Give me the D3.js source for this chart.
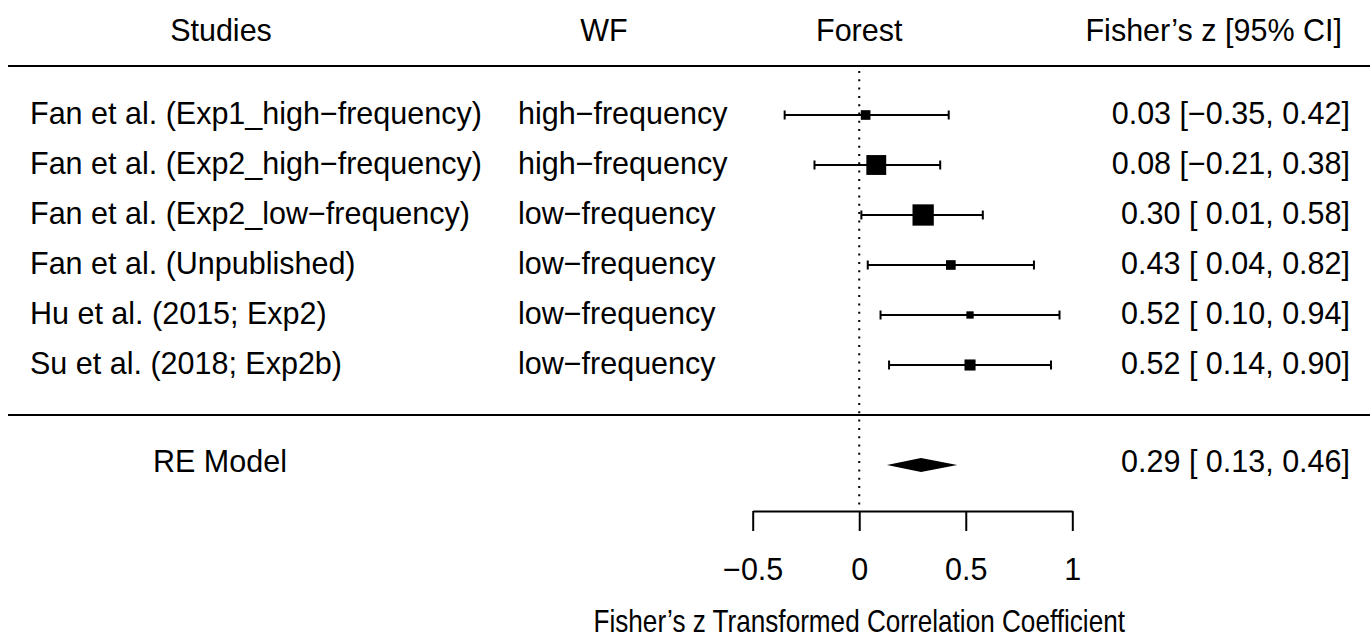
<!DOCTYPE html>
<html>
<head>
<meta charset="utf-8">
<script src="https://cdn.jsdelivr.net/npm/d3@7"></script>
<style>
  body { margin: 0; background: #fff; }
  svg text { font-family: "Liberation Sans", Arial, Helvetica, sans-serif; fill: #000; white-space: pre; }
</style>
</head>
<body>
<div id="chart"></div>
<script>
// study rows
const studies = [
  "Fan et al. (Exp1_high\u2212frequency)",
  "Fan et al. (Exp2_high\u2212frequency)",
  "Fan et al. (Exp2_low\u2212frequency)",
  "Fan et al. (Unpublished)",
  "Hu et al. (2015; Exp2)",
  "Su et al. (2018; Exp2b)"
]
const wf = ["high\u2212frequency", "high\u2212frequency", "low\u2212frequency", "low\u2212frequency", "low\u2212frequency", "low\u2212frequency"]
const est   = [0.03, 0.08, 0.30, 0.43, 0.52, 0.52]
const lower = [-0.35, -0.21, 0.01, 0.04, 0.10, 0.14]
const upper = [0.42, 0.38, 0.58, 0.82, 0.94, 0.90]
// approximate study weights (%), drive the square size
const weights = [14.8, 20.5, 21.3, 14.8, 13.5, 15.6]

// pooled random-effects estimate
const reLabel = "RE Model"
const reEst = 0.29, reLower = 0.13, reUpper = 0.46

const headers = ["Studies", "WF", "Forest", "Fisher\u2019s z [95% CI]"]
const tickValues = [-0.5, 0, 0.5, 1]
const xTitle = "Fisher\u2019s z Transformed Correlation Coefficient"

const W = 1372, H = 638
const FS = 30.5

const svg = d3.select("#chart").append("svg")
    .attr("width", W)
    .attr("height", H)
    .attr("viewBox", `0 0 ${W} ${H}`)

const x = d3.scaleLinear().domain([-0.5, 1]).range([752.7, 1072.3])
const y = d3.scaleLinear().domain([0, 5]).range([115, 365])
const size = d3.scaleLinear().domain(d3.extent(weights)).range([7.3, 21.3])

const fmt = d3.format(".2f")
const pad = v => (v < 0 ? "" : " ") + fmt(v)
const ciText = (e, l, u) => `${fmt(e)} [${pad(l)}, ${fmt(u)}]`

const rows = studies.map((s, i) => ({
  study: s, wf: wf[i], est: est[i], lo: lower[i], hi: upper[i], w: weights[i], i: i
}))

// headers
svg.append("g").selectAll("text")
  .data(headers)
  .enter().append("text")
    .attr("x", (d, i) => [221, 604, x(0), 1342][i])
    .attr("y", 41)
    .attr("text-anchor", (d, i) => i === 3 ? "end" : "middle")
    .style("font-size", FS + "px")
    .text(d => d)

// separator lines
svg.append("g").selectAll("line")
  .data([66, 415])
  .enter().append("line")
    .attr("x1", 8).attr("x2", 1370)
    .attr("y1", d => d).attr("y2", d => d)
    .style("stroke", "#000")
    .style("stroke-width", 2)

// reference line at zero
svg.append("line")
    .attr("x1", x(0)).attr("x2", x(0))
    .attr("y1", 71).attr("y2", 511)
    .style("stroke", "#000")
    .style("stroke-width", 2)
    .style("stroke-dasharray", "2,6.3")

// text columns
const g_rows = svg.append("g").attr("class", "rows")
g_rows.selectAll("text.study")
  .data(rows)
  .enter().append("text")
    .attr("class", "study")
    .attr("x", 30)
    .attr("y", d => y(d.i) + 9)
    .style("font-size", FS + "px")
    .text(d => d.study)

g_rows.selectAll("text.wf")
  .data(rows)
  .enter().append("text")
    .attr("class", "wf")
    .attr("x", 518)
    .attr("y", d => y(d.i) + 9)
    .style("font-size", FS + "px")
    .text(d => d.wf)

g_rows.selectAll("text.ci")
  .data(rows)
  .enter().append("text")
    .attr("class", "ci")
    .attr("x", 1350)
    .attr("y", d => y(d.i) + 9)
    .attr("text-anchor", "end")
    .style("font-size", FS + "px")
    .text(d => ciText(d.est, d.lo, d.hi))

// CI lines with end caps
const g_ci = svg.append("g").attr("class", "ci-lines")
  .style("stroke", "#000")
  .style("stroke-width", 2)
g_ci.selectAll("line.ci")
  .data(rows)
  .enter().append("line")
    .attr("x1", d => x(d.lo)).attr("x2", d => x(d.hi))
    .attr("y1", d => y(d.i)).attr("y2", d => y(d.i))
g_ci.selectAll("line.capl")
  .data(rows)
  .enter().append("line")
    .attr("x1", d => x(d.lo)).attr("x2", d => x(d.lo))
    .attr("y1", d => y(d.i) - 4.5).attr("y2", d => y(d.i) + 4.5)
g_ci.selectAll("line.capr")
  .data(rows)
  .enter().append("line")
    .attr("x1", d => x(d.hi)).attr("x2", d => x(d.hi))
    .attr("y1", d => y(d.i) - 4.5).attr("y2", d => y(d.i) + 4.5)

// squares sized by weight
svg.append("g").selectAll("rect")
  .data(rows)
  .enter().append("rect")
    .attr("x", d => x(d.est) - size(d.w) / 2)
    .attr("y", d => y(d.i) - size(d.w) / 2)
    .attr("width", d => size(d.w))
    .attr("height", d => size(d.w))
    .style("fill", "#000")

// summary row
const reY = 465
svg.append("text")
    .attr("x", 153)
    .attr("y", reY + 7)
    .style("font-size", FS + "px")
    .text(reLabel)
svg.append("text")
    .attr("x", 1350)
    .attr("y", reY + 7)
    .attr("text-anchor", "end")
    .style("font-size", FS + "px")
    .text(ciText(reEst, reLower, reUpper))
svg.append("polygon")
    .attr("points", [
      [x(reLower), reY], [x(reEst), reY - 7], [x(reUpper), reY], [x(reEst), reY + 7]
    ].map(p => p.join(",")).join(" "))
    .style("fill", "#000")

// x axis
const axis = d3.axisBottom(x)
  .tickValues(tickValues)
  .tickFormat(d3.format(""))
  .tickSizeInner(20)
  .tickSizeOuter(0)
  .tickPadding(27.5)

const g_axis = svg.append("g")
    .attr("transform", "translate(0,511)")
    .call(axis)
g_axis.attr("font-size", null).attr("font-family", null)
g_axis.select(".domain").style("stroke", "#000").style("stroke-width", 2)
g_axis.selectAll(".tick line").style("stroke", "#000").style("stroke-width", 2)
g_axis.selectAll(".tick text").style("font-size", FS + "px").style("fill", "#000")

// axis title, condensed like the original
svg.append("text")
    .attr("transform", `translate(${x(0)},632) scale(0.857,1)`)
    .attr("text-anchor", "middle")
    .style("font-size", FS + "px")
    .text(xTitle)
</script>
</body>
</html>
